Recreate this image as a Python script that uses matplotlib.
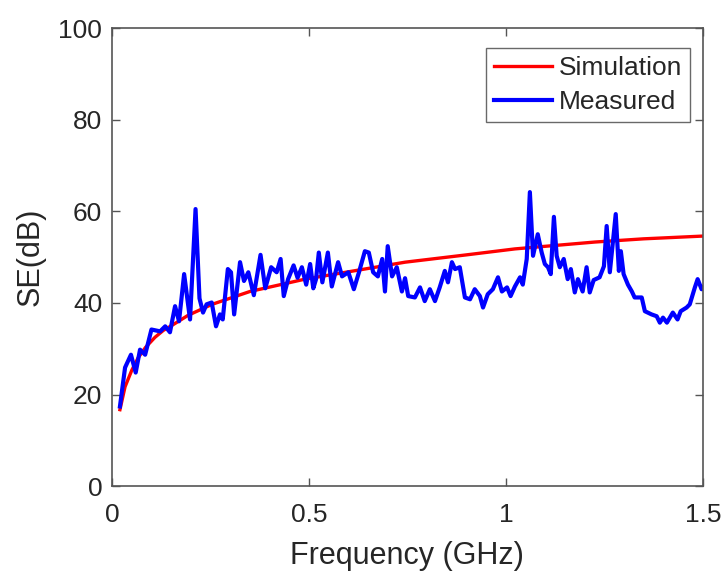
import matplotlib.pyplot as plt

# Simulated shielding effectiveness (smooth curve)
freq_sim = [0.02, 0.033, 0.05, 0.066, 0.085, 0.109, 0.13, 0.152, 0.193, 0.254,
            0.35, 0.49, 0.6, 0.744, 0.9, 1.023, 1.226, 1.35, 1.5]
se_sim = [16.7, 21.7, 25.3, 28.0, 30.3, 32.5, 34.0, 35.1, 37.3, 39.7,
          42.5, 45.2, 46.8, 48.9, 50.5, 51.8, 53.3, 54.0, 54.6]

# Measured shielding effectiveness
freq_meas = [0.020, 0.033, 0.048, 0.060, 0.071, 0.084, 0.100, 0.122, 0.135, 0.147,
             0.160, 0.170, 0.183, 0.198, 0.212, 0.222, 0.231, 0.240, 0.253, 0.264,
             0.274, 0.281, 0.294, 0.302, 0.310, 0.325, 0.335, 0.346, 0.360, 0.377,
             0.389, 0.404, 0.418, 0.428, 0.436, 0.447, 0.461, 0.471, 0.482, 0.493,
             0.503, 0.511, 0.518, 0.525, 0.534, 0.548, 0.558, 0.574, 0.584, 0.600,
             0.614, 0.627, 0.642, 0.652, 0.663, 0.675, 0.686, 0.693, 0.700, 0.711,
             0.723, 0.736, 0.744, 0.752, 0.769, 0.782, 0.794, 0.807, 0.820, 0.832,
             0.845, 0.853, 0.863, 0.871, 0.883, 0.896, 0.909, 0.921, 0.934, 0.942,
             0.954, 0.967, 0.980, 0.990, 1.003, 1.012, 1.023, 1.036, 1.043, 1.053,
             1.061, 1.069, 1.081, 1.091, 1.099, 1.107, 1.114, 1.122, 1.129, 1.137,
             1.147, 1.157, 1.165, 1.175, 1.183, 1.195, 1.205, 1.213, 1.223, 1.238,
             1.249, 1.256, 1.264, 1.279, 1.287, 1.292, 1.299, 1.310, 1.320, 1.327,
             1.345, 1.353, 1.370, 1.383, 1.391, 1.399, 1.409, 1.424, 1.436, 1.444,
             1.459, 1.467, 1.480, 1.487, 1.497, 1.500]
se_meas = [17.4, 25.9, 28.7, 24.8, 29.8, 28.7, 34.2, 33.8, 34.9, 33.6,
           39.3, 36.0, 46.3, 36.4, 60.5, 41.0, 37.9, 39.7, 40.1, 34.9,
           37.5, 36.4, 47.4, 46.7, 37.5, 48.9, 44.8, 46.7, 41.7, 50.5,
           43.2, 47.8, 46.7, 49.6, 41.5, 45.2, 48.2, 45.5, 47.8, 44.0,
           48.5, 43.2, 45.2, 51.0, 44.5, 51.0, 43.6, 48.9, 45.8, 46.7,
           43.0, 46.7, 51.3, 51.0, 46.7, 45.8, 49.6, 42.5, 52.4, 45.8,
           47.8, 42.5, 45.4, 41.5, 41.2, 43.4, 40.4, 43.0, 40.4, 43.4,
           47.0, 44.5, 48.9, 47.4, 47.8, 41.2, 40.8, 43.0, 41.5, 39.0,
           41.9, 43.0, 45.6, 42.5, 43.4, 41.5, 43.6, 45.6, 44.0, 49.6,
           64.2, 50.3, 55.0, 51.0, 48.5, 47.8, 46.3, 58.8, 50.3, 47.8,
           49.6, 45.2, 47.4, 42.3, 45.2, 42.5, 47.8, 42.3, 45.0, 45.6,
           48.0, 56.8, 46.7, 59.4, 47.0, 51.3, 46.3, 44.0, 42.5, 41.2,
           41.2, 38.2, 37.5, 37.1, 35.7, 36.8, 35.7, 37.9, 36.4, 38.2,
           39.0, 39.7, 43.4, 45.2, 43.0, 43.4]

x_ticks = [0, 0.5, 1, 1.5]
x_ticklabels = ['0', '0.5', '1', '1.5']
y_ticks = [0, 20, 40, 60, 80, 100]

plt.rcParams['font.family'] = ['Liberation Sans', 'DejaVu Sans']
txt = '#262626'

fig = plt.figure(figsize=(7.23, 5.74), dpi=100)
ax = fig.add_axes([0.155, 0.153, 0.817, 0.798])

ax.plot(freq_sim, se_sim, color='#ff0000', lw=2.4, label='Simulation')
ax.plot(freq_meas, se_meas, color='#0000ff', lw=3.0, label='Measured')

ax.set_xlim(0, 1.5)
ax.set_ylim(0, 100)
ax.set_xticks(x_ticks)
ax.set_xticklabels(x_ticklabels)
ax.set_yticks(y_ticks)
ax.tick_params(direction='in', top=True, right=True, length=6, width=1,
               labelsize=19, color='#555555', labelcolor=txt)
ax.tick_params(axis='x', pad=12)
ax.tick_params(axis='y', pad=7)
for s in ax.spines.values():
    s.set_color('#555555')
    s.set_linewidth(1.2)

ax.set_xlabel('Frequency (GHz)', fontsize=22, labelpad=10, color=txt)
ax.set_ylabel('SE(dB)', fontsize=22, labelpad=9, color=txt)

leg = ax.legend(loc='upper right', bbox_to_anchor=(0.978, 0.956),
                fontsize=19, frameon=True, fancybox=False,
                edgecolor='#444444', handlelength=2.2, handletextpad=0.25,
                borderpad=0.3, labelspacing=0.38, borderaxespad=0,
                labelcolor=txt)
leg.get_frame().set_linewidth(1.0)

fig.savefig('out.png', dpi=100)
